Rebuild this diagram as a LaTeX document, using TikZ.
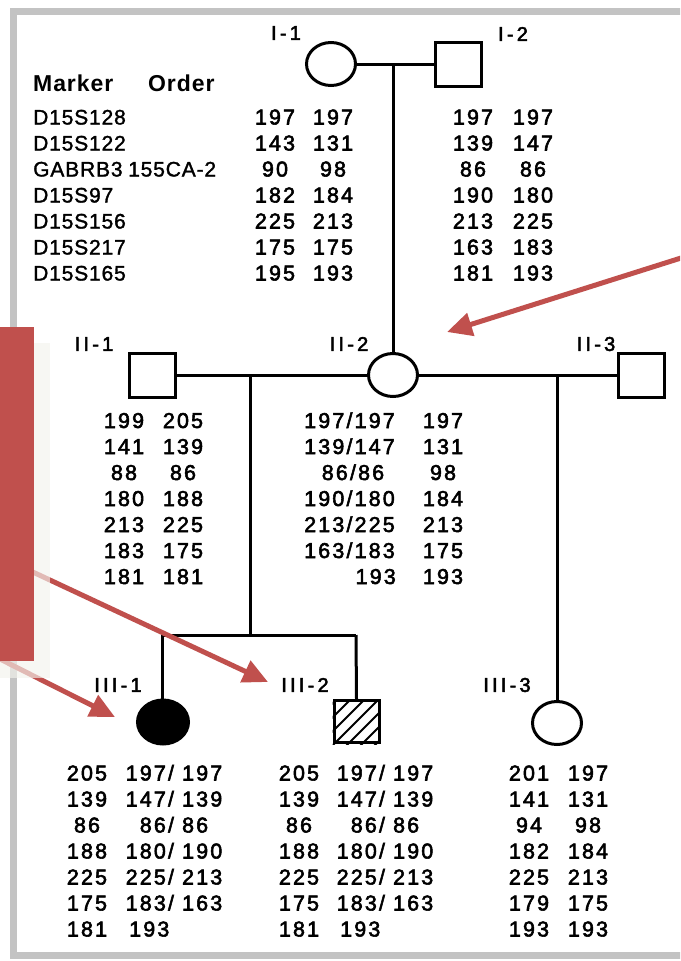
\documentclass[tikz,border=0pt]{standalone}
\usepackage{fontspec}
\setmainfont{Liberation Sans}
\newfontfamily\numf[LetterSpace=10,FakeBold=2.5]{Liberation Sans}
\newfontfamily\markf[LetterSpace=4,FakeBold=1.5]{Liberation Sans}
\newfontfamily\labf[LetterSpace=16,FakeBold=2.5]{Liberation Sans}
\newfontfamily\headf[LetterSpace=4]{Liberation Sans}
\usetikzlibrary{arrows.meta,shapes.geometric}
\definecolor{redA}{HTML}{C0504D}
\definecolor{frameg}{HTML}{C3C3C3}
\definecolor{shad}{HTML}{F4F3EE}
\newcommand\numcol[4]{% name, x, ystart, list
  \foreach \t [count=\i from 0] in {#4}
    \node[num] (#1r\i) at (#2,{#3+26*\i+7.5}) {\t};}
\newcommand\markcol[3]{%
  \foreach \t [count=\i from 0] in {#3}
    \node[markt] (#1r\i) at (#2,{117+26*\i+7.5}) {\t};}
\begin{document}
\begin{tikzpicture}[x=1pt,y=-1pt,
  ped/.style={draw=black,line width=3pt},
  female/.style={ellipse,draw=black,line width=3pt,minimum width=49pt,minimum height=43pt,inner sep=0pt},
  male/.style={rectangle,draw=black,line width=3pt,minimum width=46pt,minimum height=44pt,inner sep=0pt},
  num/.style={font=\numf\fontsize{21.5}{24}\selectfont,inner sep=0pt,anchor=base},
  markt/.style={font=\markf\fontsize{21}{24}\selectfont,inner sep=0pt,anchor=base west},
  lab/.style={font=\labf\fontsize{20}{22}\selectfont,inner sep=0pt,anchor=center},
  head/.style={font=\headf\bfseries\fontsize{23}{27}\selectfont,inner sep=0pt,anchor=base west},
  redarrow/.style={draw=redA,line width=5pt,-{Triangle[length=25pt,width=23pt]}}
]
\clip (0,0) rectangle (680,961);
\fill[white] (0,0) rectangle (680,961);
% frame
\draw[frameg,line width=7pt] (720,11) -- (13.5,11) -- (13.5,955) -- (720,955);

% header and marker names
\node[head] (hdA) at (33,91) {Marker};
\node[head] (hdB) at (148,91) {Order};
\markcol{mk}{33}{D15S128,D15S122,GABRB3,D15S97,D15S156,D15S217,D15S165}
\node[markt] (mk155) at (128,{117+52+7.5}) {155CA-2};

% generation I
\node[female] (I1) at (331,64) {};
\node[male] (I2) at (458,64) {};
\node[lab] (lI1) at (286,33) {I-1};
\node[lab] (lI2) at (513,34) {I-2};
\coordinate (mI) at (393,64);
\draw[ped] (I1.east) -- (I2.west);
\numcol{aa}{275}{117}{197,143,90,182,225,175,195}
\numcol{ab}{333}{117}{197,131,98,184,213,175,193}
\numcol{ac}{473}{117}{197,139,86,190,213,163,181}
\numcol{ad}{533}{117}{197,147,86,180,225,183,193}

% generation II
\node[male] (II1) at (152.5,375) {};
\node[female] (II2) at (393,375) {};
\node[male] (II3) at (641,375) {};
\node[lab] (lII1) at (94,344) {II-1};
\node[lab] (lII2) at (349,344) {II-2};
\node[lab] (lII3) at (596,344) {II-3};
\draw[ped] (mI) -- (II2.north);
\draw[ped] (II1.east) -- (II2.west);
\draw[ped] (II2.east) -- (II3.west);
\numcol{ba}{124}{420.5}{199,141,88,180,213,183,181}
\numcol{bb}{183}{420.5}{205,139,86,188,225,175,181}
\node[num,anchor=base east] (bc0) at (395,{420.5+7.5}) {197/197};
\node[num,anchor=base east] (bc1) at (395,{446.5+7.5}) {139/147};
\node[num] (bc2) at (353,{472.5+7.5}) {86/86};
\node[num,anchor=base east] (bc3) at (395,{498.5+7.5}) {190/180};
\node[num,anchor=base east] (bc4) at (395,{524.5+7.5}) {213/225};
\node[num,anchor=base east] (bc5) at (395,{550.5+7.5}) {163/183};
\node[num,anchor=base east] (bc6) at (396,{576.5+7.5}) {193};
\numcol{bd}{443}{420.5}{197,131,98,184,213,175,193}

% generation III
\coordinate (mII) at (250,375);
\coordinate (sib) at (250,635);
\coordinate (sl) at (162,635);
\coordinate (sr) at (356,635);
\coordinate (mIII) at (557,375);
\node[female,fill=black,minimum width=51pt,minimum height=44pt] (III1) at (163,722) {};
\node[male,minimum width=45pt,minimum height=42pt] (III2) at (356.5,721.5) {};
\node[female,minimum width=49pt,minimum height=43pt] (III3) at (557,723) {};
\begin{scope}
  \clip (III2.south west) rectangle (III2.north east);
  \foreach \k in {-42,-28,...,42}
    \draw[line width=2pt,shift={(III2.center)}] (\k-30,30) -- ++(60,-60);
\end{scope}
\node[male,minimum width=45pt,minimum height=42pt] (III2b) at (356.5,721.5) {};
\node[lab] (lIII1) at (118,685) {III-1};
\node[lab] (lIII2) at (305,685) {III-2};
\node[lab] (lIII3) at (507,685) {III-3};
\draw[ped] (mII) -- (sib);
\draw[ped] (sl) -- (sr);
\draw[ped] (sl) -- (III1.north -| sl);
\draw[ped] (sr) -- (III2.north);
\draw[ped] (mIII) -- (III3.north);

\numcol{ca}{87}{773}{205,139,86,188,225,175,181}
\numcol{cb}{174}{773}{197/ 197,147/ 139,86/ 86,180/ 190,225/ 213,183/ 163}
\node[num,anchor=base west] (cb6) at (129,{929+7.5}) {193};
\numcol{cc}{299}{773}{205,139,86,188,225,175,181}
\numcol{cd}{385}{773}{197/ 197,147/ 139,86/ 86,180/ 190,225/ 213,183/ 163}
\node[num,anchor=base west] (cd6) at (340,{929+7.5}) {193};
\numcol{ce}{529}{773}{201,141,94,182,225,179,193}
\numcol{cf}{588}{773}{197,131,98,184,213,175,193}

% red arrows
\coordinate (r1s) at (700,252);
\coordinate (r1e) at (447,332);
\coordinate (r2s) at (-10,552);
\coordinate (r2e) at (268,682);
\coordinate (r3s) at (-10,654);
\coordinate (r3e) at (115,717);
\draw[redarrow] (r1s) -- (r1e);
\draw[redarrow] (r2s) -- (r2e);
\draw[redarrow] (r3s) -- (r3e);

% shadow and red bar
\fill[shad,opacity=0.65] (-5,343) rectangle (50,678);
\fill[redA] (-5,327) rectangle (34,661);
\end{tikzpicture}
\end{document}
